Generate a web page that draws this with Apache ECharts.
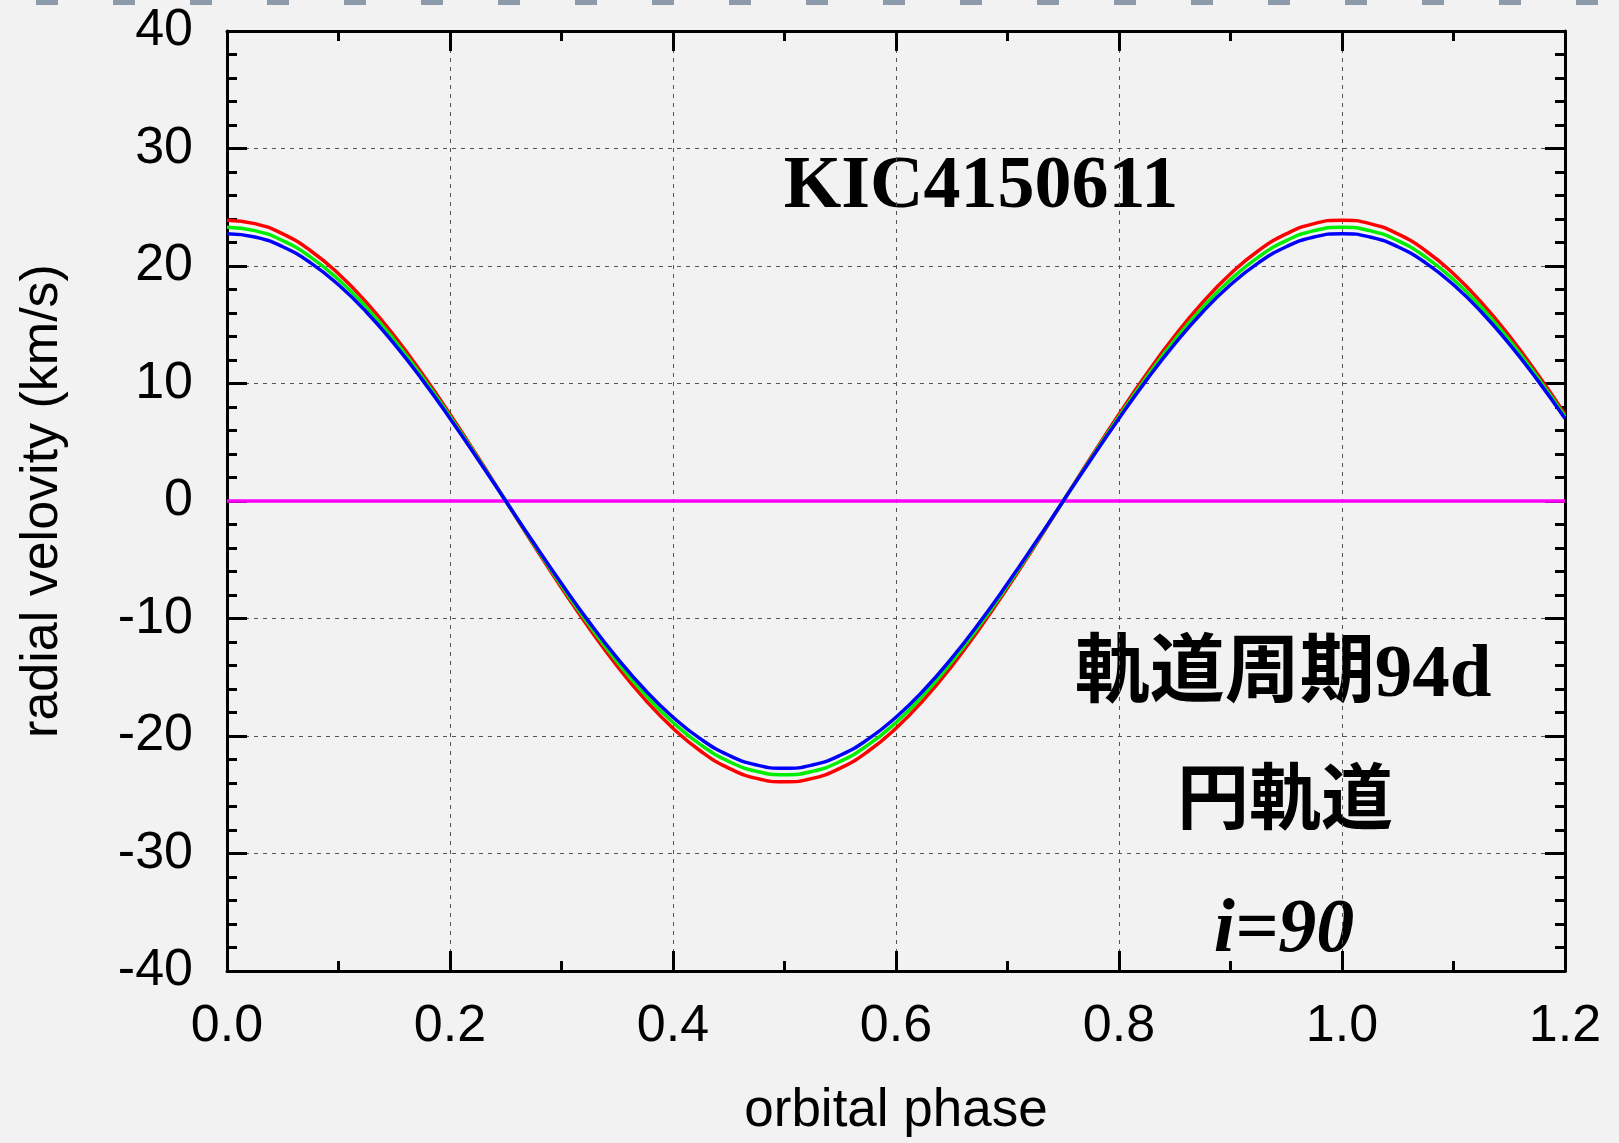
<!DOCTYPE html>
<html>
<head>
<meta charset="utf-8">
<style>
  html, body { margin: 0; padding: 0; background: #f2f2f2; overflow: hidden; }
  #rvChart { width: 100vw; height: 100vh; }
</style>
<script src="https://cdn.jsdelivr.net/npm/echarts@6/dist/echarts.min.js"></script>
</head>
<body>
<div id="rvChart"></div>
<script>
// orbital phase samples (step 0.025)
const phase = [0, 0.025, 0.05, 0.075, 0.1, 0.125, 0.15, 0.175, 0.2, 0.225, 0.25,
  0.275, 0.3, 0.325, 0.35, 0.375, 0.4, 0.425, 0.45, 0.475, 0.5,
  0.525, 0.55, 0.575, 0.6, 0.625, 0.65, 0.675, 0.7, 0.725, 0.75,
  0.775, 0.8, 0.825, 0.85, 0.875, 0.9, 0.925, 0.95, 0.975, 1.0,
  1.025, 1.05, 1.075, 1.1, 1.125, 1.15, 1.175, 1.2];
// radial velocity (km/s)
const vRed = [23.9, 23.61, 22.73, 21.3, 19.34, 16.9, 14.05, 10.85, 7.39, 3.74, 0,
  -3.74, -7.39, -10.85, -14.05, -16.9, -19.34, -21.3, -22.73, -23.61, -23.9,
  -23.61, -22.73, -21.3, -19.34, -16.9, -14.05, -10.85, -7.39, -3.74, 0,
  3.74, 7.39, 10.85, 14.05, 16.9, 19.34, 21.3, 22.73, 23.61, 23.9,
  23.61, 22.73, 21.3, 19.34, 16.9, 14.05, 10.85, 7.39];
const vGreen = [23.3, 23.01, 22.16, 20.76, 18.85, 16.48, 13.7, 10.58, 7.2, 3.64, 0,
  -3.64, -7.2, -10.58, -13.7, -16.48, -18.85, -20.76, -22.16, -23.01, -23.3,
  -23.01, -22.16, -20.76, -18.85, -16.48, -13.7, -10.58, -7.2, -3.64, 0,
  3.64, 7.2, 10.58, 13.7, 16.48, 18.85, 20.76, 22.16, 23.01, 23.3,
  23.01, 22.16, 20.76, 18.85, 16.48, 13.7, 10.58, 7.2];
const vBlue = [22.75, 22.47, 21.64, 20.27, 18.4, 16.09, 13.37, 10.33, 7.03, 3.56, 0,
  -3.56, -7.03, -10.33, -13.37, -16.09, -18.4, -20.27, -21.64, -22.47, -22.75,
  -22.47, -21.64, -20.27, -18.4, -16.09, -13.37, -10.33, -7.03, -3.56, 0,
  3.56, 7.03, 10.33, 13.37, 16.09, 18.4, 20.27, 21.64, 22.47, 22.75,
  22.47, 21.64, 20.27, 18.4, 16.09, 13.37, 10.33, 7.03];
const zeroLine = [[0, 0], [1.2, 0]];

const sansFont = "'Liberation Sans', Arial, sans-serif";
const serifFont = "'Liberation Serif', 'Noto Sans CJK JP', serif";

function pairs(xs, ys) {
  return xs.map((x, i) => [x, ys[i]]);
}

function xAxisOf(pos, showLabel) {
  return {
    type: 'value', position: pos, min: 0, max: 1.2, interval: 0.2,
    name: showLabel ? 'orbital phase' : '',
    nameLocation: 'middle', nameGap: 114,
    nameTextStyle: { fontFamily: sansFont, fontSize: 53, color: '#000' },
    axisLine: { show: true, onZero: false, lineStyle: { color: '#000', width: 3 } },
    axisTick: { show: true, inside: true, length: 20, lineStyle: { color: '#000', width: 3 } },
    minorTick: { show: true, splitNumber: 2, length: 10, lineStyle: { color: '#000', width: 3 } },
    axisLabel: {
      show: showLabel, margin: 30, fontFamily: sansFont, fontSize: 52, color: '#000',
      formatter: v => v.toFixed(1)
    },
    splitLine: { show: showLabel, lineStyle: { color: '#555', width: 1, type: [4, 5] } }
  };
}

function yAxisOf(pos, showLabel) {
  return {
    type: 'value', position: pos, min: -40, max: 40, interval: 10,
    name: showLabel ? 'radial velovity (km/s)' : '',
    nameLocation: 'middle', nameGap: 158,
    nameTextStyle: { fontFamily: sansFont, fontSize: 52, color: '#000' },
    axisLine: { show: true, onZero: false, lineStyle: { color: '#000', width: 3 } },
    axisTick: { show: true, inside: true, length: 20, lineStyle: { color: '#000', width: 3 } },
    minorTick: { show: true, splitNumber: 5, length: 10, lineStyle: { color: '#000', width: 3 } },
    axisLabel: { show: showLabel, margin: 34, fontFamily: sansFont, fontSize: 52, color: '#000' },
    splitLine: { show: showLabel, lineStyle: { color: '#555', width: 1, type: [4, 5] } }
  };
}

function curve(data, color, width) {
  return {
    type: 'line', data: data, smooth: true, symbol: 'none',
    lineStyle: { color: color, width: width }, silent: true
  };
}

const option = {
  backgroundColor: '#f2f2f2',
  animation: false,
  grid: { left: 227, right: 54, top: 31, bottom: 162 },
  xAxis: [xAxisOf('bottom', true), xAxisOf('top', false)],
  yAxis: [yAxisOf('left', true), yAxisOf('right', false)],
  series: [
    curve(zeroLine, '#ff00ff', 3.5),
    curve(pairs(phase, vRed), '#ff0000', 3.5),
    curve(pairs(phase, vGreen), '#00ee00', 3.5),
    curve(pairs(phase, vBlue), '#0000ff', 3.5)
  ],
  graphic: [
    {
      type: 'line', shape: { x1: 36, y1: 2, x2: 1619, y2: 2 }, silent: true,
      style: { stroke: '#8c9aa9', lineWidth: 6, lineDash: [22, 55] }
    },
    {
      type: 'text', x: 981, y: 188, silent: true,
      style: { text: 'KIC4150611', font: 'bold 74px ' + serifFont, fill: '#000', align: 'center', verticalAlign: 'middle' }
    },
    {
      type: 'text', x: 1283, y: 677, silent: true,
      style: { text: '軌道周期94d', font: 'bold 75px ' + serifFont, fill: '#000', align: 'center', verticalAlign: 'middle' }
    },
    {
      type: 'text', x: 1285, y: 804, silent: true,
      style: { text: '円軌道', font: 'bold 72px ' + serifFont, fill: '#000', align: 'center', verticalAlign: 'middle' }
    },
    {
      type: 'text', x: 1284, y: 931, silent: true,
      style: { text: 'i=90', font: 'italic bold 76px ' + serifFont, fill: '#000', align: 'center', verticalAlign: 'middle' }
    }
  ]
};

const myChart = echarts.init(document.getElementById('rvChart'));
myChart.setOption(option);
</script>
</body>
</html>
